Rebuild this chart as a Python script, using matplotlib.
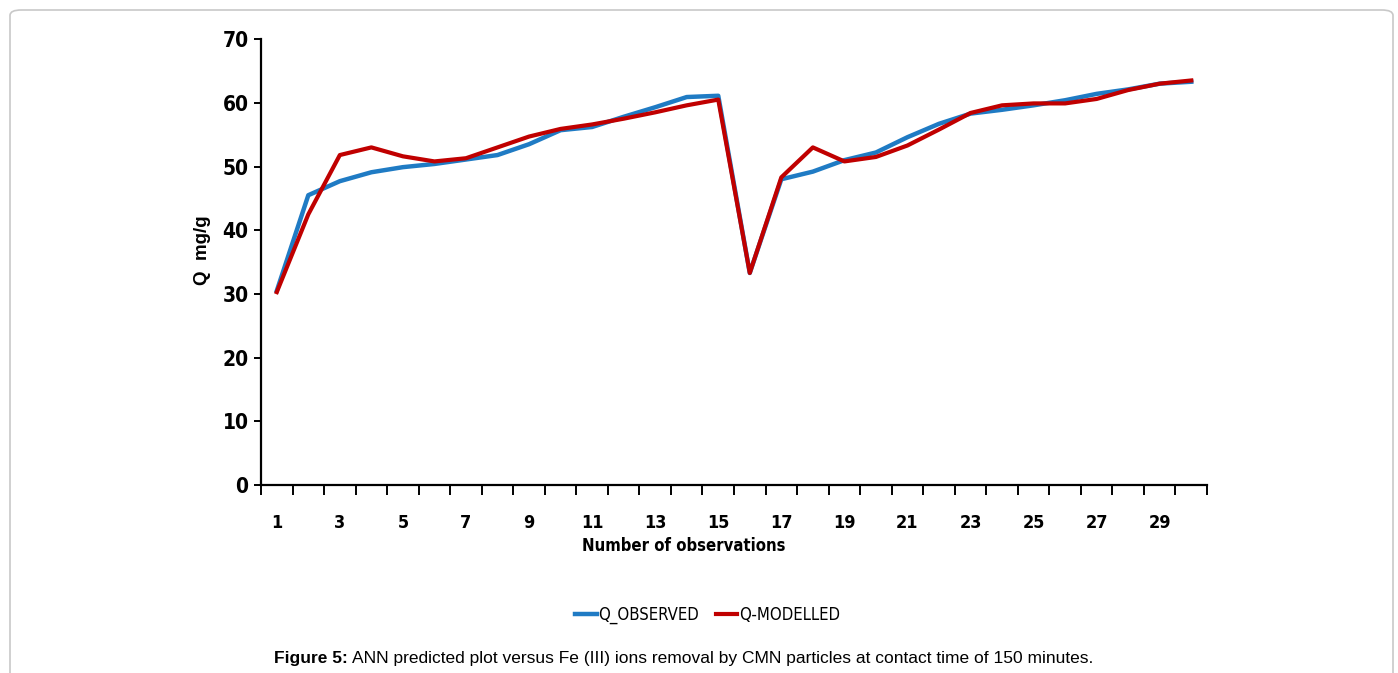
import numpy as np
import matplotlib.pyplot as plt
from matplotlib.patches import FancyBboxPatch

# observation number and adsorption capacity Q (mg/g)
observations = np.arange(1, 31)
q_observed = [30.5, 45.5, 47.7, 49.1, 49.9, 50.4, 51.1, 51.8, 53.5, 55.7,
              56.2, 57.8, 59.3, 60.9, 61.1, 33.3, 48.0, 49.2, 51.0, 52.2,
              54.6, 56.7, 58.3, 58.9, 59.6, 60.4, 61.4, 62.1, 63.0, 63.3]
q_modelled = [30.3, 42.5, 51.8, 53.0, 51.6, 50.8, 51.3, 53.0, 54.7, 55.9,
              56.6, 57.5, 58.5, 59.6, 60.5, 33.3, 48.3, 53.0, 50.8, 51.5,
              53.3, 55.8, 58.4, 59.6, 59.9, 59.9, 60.6, 62.0, 63.0, 63.5]
y_ticks = [0, 10, 20, 30, 40, 50, 60, 70]

narrow = dict(family='DejaVu Sans', stretch='condensed')
arial = ['Liberation Sans', 'DejaVu Sans']

fig = plt.figure(figsize=(13.98, 6.73), dpi=100)
ax = fig.add_axes([0.1867, 0.279, 0.6767, 0.663])

ax.plot(observations, q_observed, color='#1f7bc4', lw=3.2, label='Q_OBSERVED')
ax.plot(observations, q_modelled, color='#c00000', lw=3.0, label='Q-MODELLED')

ax.set_xlim(0.5, 30.5)
ax.set_ylim(0, 70)
ax.spines['top'].set_visible(False)
ax.spines['right'].set_visible(False)
ax.spines['left'].set_linewidth(1.6)
ax.spines['bottom'].set_linewidth(1.6)

# tick marks between categories, labels on every other category
ax.set_xticks(np.arange(0.5, 31, 1))
ax.set_xticklabels([])
ax.tick_params(axis='x', which='major', direction='out', length=7, width=1.4)
ax.set_xticks(observations[::2], minor=True)
ax.set_xticklabels([str(v) for v in observations[::2]], minor=True,
                   fontweight='bold', fontsize=13, **narrow)
ax.tick_params(axis='x', which='minor', length=0, pad=21)

ax.set_yticks(y_ticks)
ax.set_yticklabels([str(v) for v in y_ticks], fontweight='bold', fontsize=15,
                   **narrow)
ax.tick_params(axis='y', direction='out', length=5, width=1.4, pad=4)

ax.set_xlabel('Number of observations', fontweight='bold', fontsize=12,
              **narrow)
ax.xaxis.set_label_coords(0.447, -0.115)
ax.set_ylabel('Q  mg/g', fontweight='bold', fontsize=13.5, family=arial)
ax.yaxis.set_label_coords(-0.053, 0.527)

fig.legend(loc='center', bbox_to_anchor=(0.506, 0.086), ncol=2, frameon=False,
           handlelength=1.3, handletextpad=0.1, columnspacing=1.0,
           prop=dict(size=12, **narrow))

fig.text(0.2485, 0.022, 'Figure 5:', ha='right', va='center',
         fontweight='bold', fontsize=12.5, family=arial)
fig.text(0.2515, 0.022,
         'ANN predicted plot versus Fe (III) ions removal by CMN particles at contact time of 150 minutes.',
         ha='left', va='center', fontsize=12.5, family=arial)

# grey rounded frame around the figure
frame = FancyBboxPatch((10 / 1398, -0.05), 1383 / 1398, 1.05 - 10 / 673,
                       boxstyle='round,pad=0,rounding_size=0.008',
                       transform=fig.transFigure, facecolor='none',
                       edgecolor='#c8c8c8', lw=1.2)
fig.patches.append(frame)

fig.savefig('out.png', dpi=100)
